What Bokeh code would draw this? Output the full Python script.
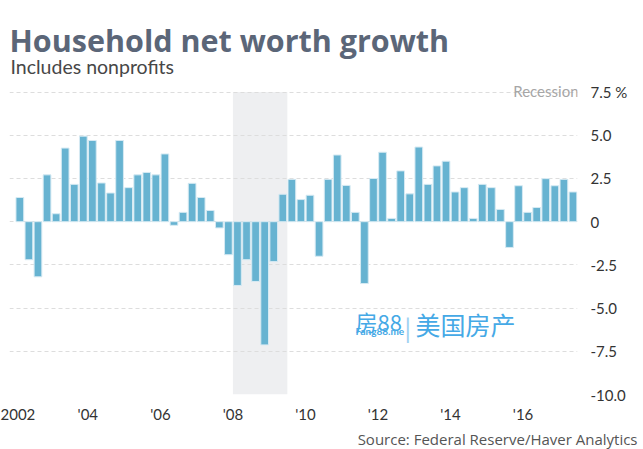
from bokeh.plotting import figure
from bokeh.models import Range1d, FixedTicker, BoxAnnotation, Label, ColumnDataSource, Title
from bokeh.embed import file_html
from bokeh.resources import INLINE

# ---- data ----
start_year = 2002
growth = [1.40, -2.20, -3.19, 2.71, 0.46, 4.26, 2.16, 4.95, 4.70, 2.24, 1.66, 4.70,
          1.97, 2.71, 2.85, 2.71, 3.92, -0.21, 0.54, 2.22, 1.40, 0.65, -0.36, -1.91,
          -3.69, -2.20, -3.46, -7.13, -2.31, 1.59, 2.45, 1.28, 1.53, -2.00, 2.45, 3.86,
          2.10, 0.54, -3.58, 2.50, 4.02, 0.19, 2.94, 1.61, 4.32, 2.16, 3.23, 3.50,
          1.72, 1.97, 0.19, 2.16, 1.97, 0.71, -1.49, 2.08, 0.54, 0.82, 2.49, 2.08,
          2.45, 1.72]
recession_start = 2008.0
recession_end = 2009.5
x_tick_years = [2002, 2004, 2006, 2008, 2010, 2012, 2014, 2016]
x_tick_labels = ["2002", "'04", "'06", "'08", "'10", "'12", "'14", "'16"]
y_ticks = [-10, -7.5, -5, -2.5, 0, 2.5, 5, 7.5]
y_tick_labels = ["-10.0", "-7.5", "-5.0", "-2.5", "0", "2.5", "5.0", "7.5 %"]

xs = [start_year + i * 0.25 + 0.125 for i in range(len(growth))]
src = ColumnDataSource(dict(x=xs, top=growth))

FONT = "Lato"

p = figure(width=643, height=449, output_backend="svg", toolbar_location=None,
           x_range=Range1d(2001.84, 2017.5), y_range=Range1d(-10, 12.8),
           y_axis_location="right",
           min_border_left=9, min_border_right=66, min_border_top=0, min_border_bottom=52)
p.outline_line_color = None
p.background_fill_color = "white"
p.border_fill_color = "white"

rec = BoxAnnotation(left=recession_start, right=recession_end, top=7.5, bottom=-10,
                    fill_color="#eeeff1", fill_alpha=1, line_color=None, level="image")
p.add_layout(rec)

p.vbar(x="x", top="top", bottom=0, width=0.2125, source=src,
       fill_color="#67b3d1", line_color="#d6eaf3", line_width=1)

# axes
p.xaxis.ticker = FixedTicker(ticks=x_tick_years)
p.xaxis.major_label_overrides = {y: l for y, l in zip(x_tick_years, x_tick_labels)}
p.yaxis.ticker = FixedTicker(ticks=y_ticks)
p.yaxis.major_label_overrides = {y: l for y, l in zip(y_ticks, y_tick_labels)}
for ax in (p.xaxis, p.yaxis):
    ax.axis_line_color = None
    ax.major_tick_line_color = None
    ax.minor_tick_line_color = None
    ax.major_tick_out = 0
    ax.major_tick_in = 0
    ax.major_label_text_font = FONT
    ax.major_label_text_font_size = "15px"
    ax.major_label_text_color = "#333333"
p.yaxis.major_label_standoff = 13
p.xaxis.major_label_standoff = 10

p.xgrid.visible = False
p.ygrid.ticker = FixedTicker(ticks=y_ticks)
p.ygrid.grid_line_color = "#dddddd"
p.ygrid.grid_line_dash = "4 3"
p.ygrid.grid_line_width = 1

def add_label(text, x, y, size, color, font=FONT, style="normal", align="left"):
    p.add_layout(Label(x=x, y=y, x_units="canvas", y_units="canvas", text=text,
                       text_font=font, text_font_size=size, text_color=color,
                       text_font_style=style, text_align=align,
                       text_baseline="alphabetic"))

add_label("Household net worth growth", 9, 39.5, "30.5px", "#5b6678", font="Open Sans", style="bold")
add_label("Includes nonprofits", 10, 66.3, "19.5px", "#474747")
add_label("Recession", 578, 90, "15px", "#a6a6a6", align="right")
# watermark
add_label("房88", 355, 320, "22px", "#45a9e6", font="Noto Sans CJK SC")
add_label("Fang88.me", 355, 330, "10px", "#45a9e6", style="bold")
add_label("|", 404, 327, "26px", "#9fd2f1")
add_label("美国房产", 415, 323, "25px", "#45a9e6", font="Noto Sans CJK SC")

source = Title(text="Source: Federal Reserve/Haver Analytics", align="right", offset=-60,
               text_font="Open Sans", text_font_size="15px", text_color="#555555",
               text_font_style="normal", standoff=2)
p.add_layout(source, "below")

open("out.html", "w").write(file_html(p, INLINE))
